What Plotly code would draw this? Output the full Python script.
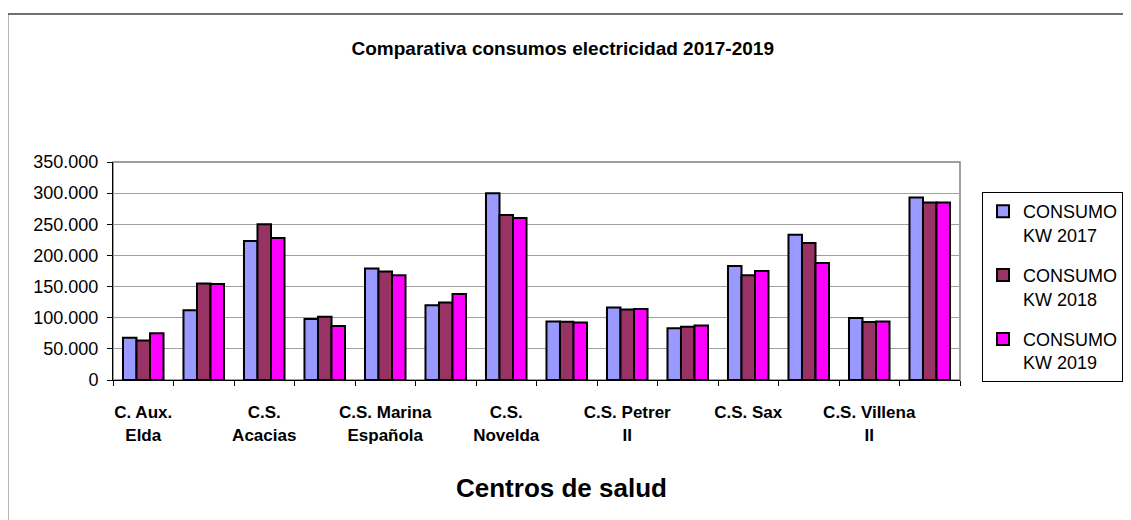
import plotly.graph_objects as go

categories = ["C. Aux. Elda", "C. Aux. Petrer", "C.S. Acacias", "C.S. Elda", "C.S. Marina Española",
              "C.S. Monóvar", "C.S. Novelda", "C.S. Petrer I", "C.S. Petrer II", "C.S. Pinoso",
              "C.S. Sax", "C.S. Villena I", "C.S. Villena II", "Hospital Elda"]
tick_labels = ["C. Aux.<br>Elda", "", "C.S.<br>Acacias", "", "C.S. Marina<br>Española", "",
               "C.S.<br>Novelda", "", "C.S. Petrer<br>II", "", "C.S. Sax", "", "C.S. Villena<br>II", ""]
consumo_2017 = [68000, 112000, 223000, 98000, 179000, 120000, 300000, 94000, 116500, 83000, 183000, 233000, 99500, 293000]
consumo_2018 = [63500, 155000, 250000, 101500, 174000, 124500, 265000, 93500, 113000, 85500, 168000, 220000, 93000, 285000]
consumo_2019 = [75000, 154000, 228000, 86500, 168000, 138000, 260000, 92500, 114000, 87500, 175000, 188000, 94000, 285000]
series_names = ["CONSUMO<br>KW 2017", "CONSUMO<br>KW 2018", "CONSUMO<br>KW 2019"]
colors = ["#9999FF", "#993366", "#FF00FF"]

fig = go.Figure()
for i, (name, vals, col) in enumerate(zip(series_names, [consumo_2017, consumo_2018, consumo_2019], colors)):
    fig.add_trace(go.Bar(x=categories, y=vals, name=name, legendgroup=f"g{i}",
                         marker=dict(color=col, line=dict(color="black", width=2))))

font = "Liberation Sans, Arial, sans-serif"
narrow = "Liberation Sans Narrow, Arial Narrow, Liberation Sans, sans-serif"
fig.update_layout(
    width=1123, height=512,
    margin=dict(l=105, r=171, t=154, b=140, autoexpand=False),
    paper_bgcolor="white", plot_bgcolor="white",
    separators=",.",
    barmode="group", bargap=0.33, bargroupgap=0,
    font=dict(family=font, color="black", size=14),
    title=dict(text="<b>Comparativa consumos electricidad 2017-2019</b>", x=0.494, xanchor="center",
               y=0.922, yanchor="middle", font=dict(size=19, family=narrow)),
    legend=dict(x=1.026, xanchor="left", y=0.862, yanchor="top", bordercolor="black", borderwidth=1,
                font=dict(size=18, family=font), tracegroupgap=14, itemwidth=30, valign="top",
                bgcolor="white"),
    showlegend=True,
)
fig.update_xaxes(
    type="category", tickvals=categories, ticktext=[f"<b>{t}</b>" if t else "" for t in tick_labels],
    tickson="boundaries",
    ticks="outside", ticklen=5, tickcolor="black", showline=True, linecolor="black", linewidth=1,
    showgrid=False, tickfont=dict(size=17, family=narrow), tickangle=0, ticklabelstandoff=17,
    range=[-0.5, 13.5], automargin=False,
)
fig.update_yaxes(
    range=[0, 350000], dtick=50000, tickformat=",.0f", ticks="outside", ticklen=5, tickcolor="black",
    showline=True, linecolor="black", linewidth=1, showgrid=True, gridcolor="#A0A0A0", gridwidth=1,
    tickfont=dict(size=18, family=font), zeroline=False, automargin=False, ticklabelstandoff=5,
)
fig.add_annotation(text="<b>Centros de salud</b>", xref="paper", yref="paper", x=0.53, y=-0.495,
                   xanchor="center", yanchor="middle", showarrow=False, font=dict(size=26, family=font))
# plot area border (gray top/right)
fig.add_shape(type="rect", xref="x domain", yref="y domain", x0=0, x1=1, y0=0, y1=1,
              line=dict(color="#808080", width=1.5), layer="below")
# chart area border (top/left visible)
fig.add_shape(type="line", xref="paper", yref="paper", x0=-0.1246, x1=1.3, y0=1.679, y1=1.679,
              line=dict(color="#404040", width=1.5))
fig.add_shape(type="line", xref="paper", yref="paper", x0=-0.1246, x1=-0.1246, y0=-0.7, y1=1.679,
              line=dict(color="#606060", width=2))
fig.write_html("out.html")
